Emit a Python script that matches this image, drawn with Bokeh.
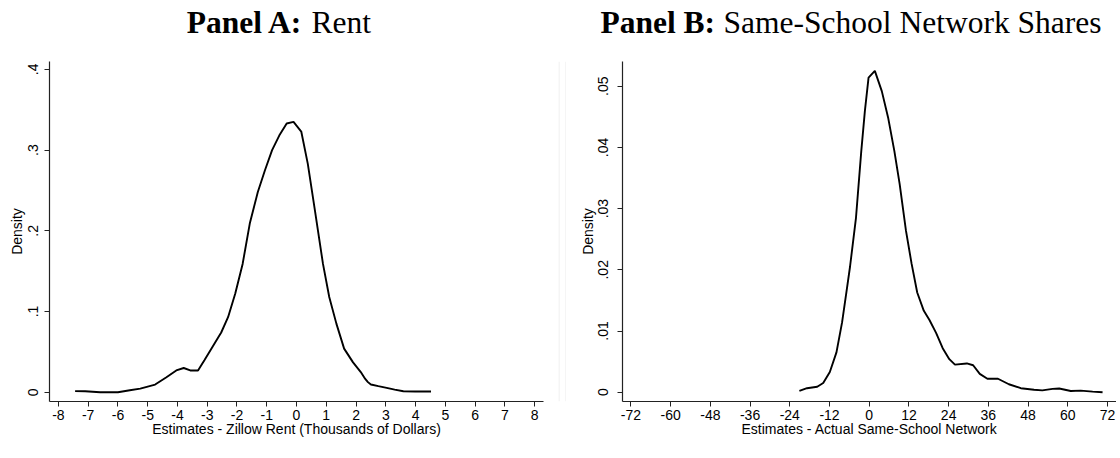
from bokeh.plotting import figure
from bokeh.layouts import row, column
from bokeh.models import FixedTicker, Range1d, Label
from bokeh.embed import file_html
from bokeh.resources import INLINE

# ---- data ----
rent_x = [-7.44, -7.1, -6.6, -6.0, -5.6, -5.25, -4.75, -4.37, -4.04, -3.79, -3.57,
          -3.31, -3.09, -2.81, -2.53, -2.30, -2.06, -1.81, -1.57, -1.30, -1.06,
          -0.82, -0.58, -0.33, -0.10, 0.16, 0.38, 0.62, 0.89, 1.10, 1.34, 1.60,
          1.90, 2.16, 2.31, 2.40, 2.50, 2.75, 3.03, 3.30, 3.59, 3.99, 4.52]
rent_y = [0.0013, 0.0012, 0.0, 0.0, 0.0025, 0.0045, 0.0095, 0.0186, 0.027, 0.030,
          0.027, 0.027, 0.040, 0.057, 0.074, 0.093, 0.122, 0.159, 0.209, 0.248,
          0.275, 0.300, 0.318, 0.333, 0.335, 0.323, 0.283, 0.225, 0.159, 0.118,
          0.085, 0.054, 0.037, 0.025, 0.0165, 0.0125, 0.0095, 0.0075, 0.0054,
          0.0032, 0.0012, 0.0009, 0.0008]

school_x = [-21.1, -18.8, -15.7, -13.9, -11.9, -9.9, -8.2, -6.9, -5.8, -4.0, -2.4,
            -1.3, -0.2, 1.7, 3.8, 5.7, 7.6, 9.2, 11.1, 12.8, 14.5, 16.5, 18.2,
            20.2, 22.2, 24.2, 25.9, 29.5, 31.4, 33.4, 35.7, 38.9, 42.2, 45.8,
            49.8, 52.3, 55.4, 57.4, 60.9, 63.9, 67.5, 70.5]
school_y = [0.0002, 0.00065, 0.0009, 0.0015, 0.0033, 0.0065, 0.0114, 0.0163,
            0.0205, 0.0285, 0.0394, 0.046, 0.0514, 0.0525, 0.0492, 0.0449, 0.0394,
            0.034, 0.0264, 0.021, 0.0163, 0.0133, 0.0118, 0.0097, 0.0072, 0.0054,
            0.0045, 0.0047, 0.0044, 0.0030, 0.0022, 0.0022, 0.0013, 0.00065,
            0.0004, 0.0003, 0.00055, 0.0006, 0.0002, 0.00025, 0.0001, 0.0]

rent_xticks = list(range(-8, 9))
rent_xtick_labels = ["-8", "-7", "-6", "-5", "-4", "-3", "-2", "-1", "0",
                     "1", "2", "3", "4", "5", "6", "7", "8"]
rent_yticks = [0, 0.1, 0.2, 0.3, 0.4]
rent_ytick_labels = ["0", ".1", ".2", ".3", ".4"]
school_xticks = list(range(-72, 73, 12))
school_xtick_labels = ["-72", "-60", "-48", "-36", "-24", "-12", "0",
                       "12", "24", "36", "48", "60", "72"]
school_yticks = [0, 0.01, 0.02, 0.03, 0.04, 0.05]
school_ytick_labels = ["0", ".01", ".02", ".03", ".04", ".05"]

rent_title_bold = "Panel A:"
rent_title_rest = "Rent"
school_title_bold = "Panel B:"
school_title_rest = "Same-School Network Shares"
rent_xlabel = "Estimates - Zillow Rent (Thousands of Dollars)"
school_xlabel = "Estimates - Actual Same-School Network"
ylabel = "Density"

SANS = "Liberation Sans"
SERIF = "Liberation Serif"
LEFT_W, SEP_W, RIGHT_W = 558, 8, 550
TOTAL_W = LEFT_W + SEP_W + RIGHT_W
TOTAL_H = 442
TITLE_H = 45
PANEL_H = TOTAL_H - TITLE_H


def bare_figure(width, height):
    f = figure(width=width, height=height, x_range=Range1d(0, width),
               y_range=Range1d(0, height), output_backend="svg",
               toolbar_location=None, x_axis_location=None,
               y_axis_location=None, min_border=0)
    f.grid.visible = False
    f.outline_line_color = None
    f.border_fill_color = "white"
    f.background_fill_color = "white"
    return f


def add_title(t, split_x, gap, tbold, trest):
    mid_y = TITLE_H - 21.7
    t.add_layout(Label(x=split_x, y=mid_y, text=tbold, text_font=SERIF,
                       text_font_size="31.5px", text_font_style="bold",
                       text_align="right", text_baseline="middle",
                       text_color="black"))
    t.add_layout(Label(x=split_x + gap, y=mid_y, text=trest, text_font=SERIF,
                       text_font_size="31.5px", text_font_style="normal",
                       text_align="left", text_baseline="middle",
                       text_color="black"))


title_fig = bare_figure(TOTAL_W, TITLE_H)
add_title(title_fig, 302.5, 8.5, rent_title_bold, rent_title_rest)
add_title(title_fig, 714.6, 8.5, school_title_bold, school_title_rest)

sep_fig = bare_figure(SEP_W, PANEL_H)
sep_fig.segment(x0=[0.5, SEP_W - 0.5], y0=[0, 0], x1=[0.5, SEP_W - 0.5],
                y1=[PANEL_H, PANEL_H], line_color="#ebebeb", line_width=1)


def make_panel(width, bl, br, xr, yr, xs, ys, xticks, xlabels, yticks, ylabels,
               xlabel, ytick_standoff, ylabel_standoff):
    p = figure(width=width, height=PANEL_H, x_range=Range1d(*xr),
               y_range=Range1d(*yr), output_backend="svg", toolbar_location=None,
               min_border_left=bl, min_border_right=br,
               min_border_top=61 - TITLE_H, min_border_bottom=TOTAL_H - 401)
    p.grid.visible = False
    p.outline_line_color = None
    p.background_fill_color = "white"
    p.border_fill_color = "white"
    p.line(xs, ys, line_color="black", line_width=1.9)

    xa = p.xaxis[0]
    xa.ticker = FixedTicker(ticks=xticks)
    xa.major_label_overrides = {t: l for t, l in zip(xticks, xlabels)}
    xa.axis_label = xlabel
    ya = p.yaxis[0]
    ya.ticker = FixedTicker(ticks=yticks)
    ya.major_label_overrides = {t: l for t, l in zip(yticks, ylabels)}
    ya.major_label_orientation = "vertical"
    ya.axis_label = ylabel
    for ax in (xa, ya):
        ax.axis_line_color = "#222222"
        ax.axis_line_width = 1.2
        ax.major_tick_line_color = "#222222"
        ax.major_tick_out = 5
        ax.major_tick_in = 0
        ax.minor_tick_line_color = None
        ax.major_label_text_font = SANS
        ax.major_label_text_font_size = "14px"
        ax.major_label_text_color = "black"
        ax.axis_label_text_font = SANS
        ax.axis_label_text_font_size = "14px"
        ax.axis_label_text_font_style = "normal"
        ax.axis_label_text_color = "black"
    xa.major_label_standoff = 3
    xa.axis_label_standoff = -2
    ya.major_label_standoff = ytick_standoff
    ya.axis_label_standoff = ylabel_standoff
    return p


left = make_panel(LEFT_W, 49, 15, (-8.30, 8.30), (-0.0115, 0.4098),
                  rent_x, rent_y, rent_xticks, rent_xtick_labels,
                  rent_yticks, rent_ytick_labels, rent_xlabel, 6, 1)

right = make_panel(RIGHT_W, 56, 0, (-74.54, 74.71), (-0.00152, 0.05404),
                   school_x, school_y, school_xticks, school_xtick_labels,
                   school_yticks, school_ytick_labels, school_xlabel, 9, 0)

layout = column(title_fig, row(left, sep_fig, right))
open("out.html", "w").write(file_html(layout, INLINE))
